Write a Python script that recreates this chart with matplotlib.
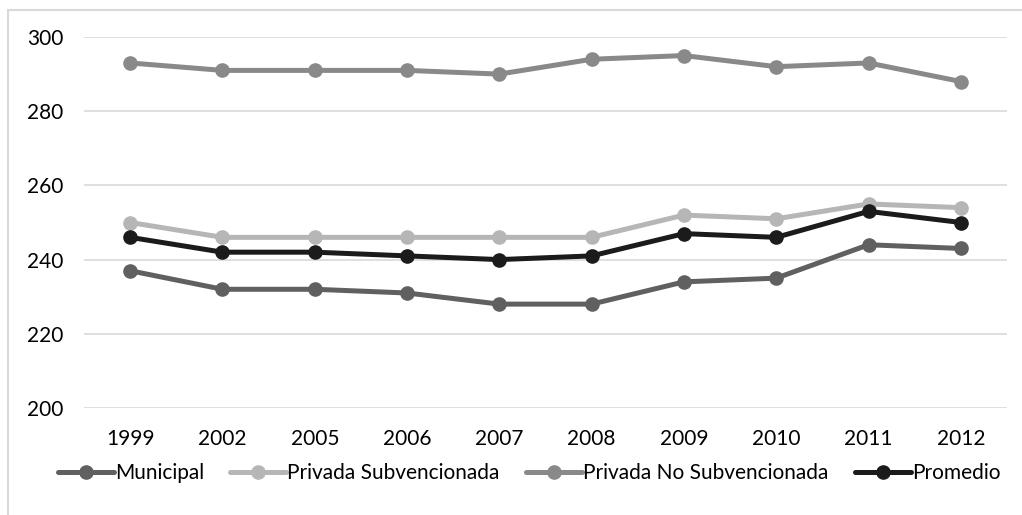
import matplotlib
matplotlib.use("Agg")
import matplotlib.pyplot as plt
from matplotlib.patches import Rectangle

years = ["1999", "2002", "2005", "2006", "2007", "2008", "2009", "2010", "2011", "2012"]
municipal = [237, 232, 232, 231, 228, 228, 234, 235, 244, 243]
privada_subv = [250, 246, 246, 246, 246, 246, 252, 251, 255, 254]
privada_no_subv = [293, 291, 291, 291, 290, 294, 295, 292, 293, 288]
promedio = [246, 242, 242, 241, 240, 241, 247, 246, 253, 250]

series = [
    ("Municipal", municipal, "#606060"),
    ("Privada Subvencionada", privada_subv, "#b6b6b6"),
    ("Privada No Subvencionada", privada_no_subv, "#898989"),
    ("Promedio", promedio, "#1b1b1b"),
]

plt.rcParams["font.family"] = ["Lato", "DejaVu Sans"]

W, H = 1022, 515
fig = plt.figure(figsize=(W / 100, H / 100), dpi=100)
ax = fig.add_axes([84 / W, 1 - 408 / H, (1007 - 84) / W, (408 - 37) / H])

x = list(range(len(years)))
for name, vals, color in series:
    ax.plot(x, vals, color=color, lw=3.6, marker="o", ms=9.5,
            solid_capstyle="round", label=name)

ax.set_xlim(-0.5, len(years) - 0.5)
ax.set_ylim(200, 300)
ax.set_yticks(range(200, 301, 20))
ax.set_xticks(x)
ax.set_xticklabels(years)
ax.grid(axis="y", color="#d9d9d9", lw=1.2)
ax.set_axisbelow(True)
for s in ax.spines.values():
    s.set_visible(False)
ax.tick_params(length=0, labelsize=15, colors="black")
ax.tick_params(axis="y", pad=15)
ax.tick_params(axis="x", pad=15)

fig.patches.append(Rectangle((8 / W, -0.1), 1.2, 1.1 - 10 / H,
                             transform=fig.transFigure, fill=False,
                             edgecolor="#d9d9d9", lw=1.5))

fig.legend(loc="center", bbox_to_anchor=(529 / W, 1 - 473 / H), ncol=4,
           frameon=False, fontsize=15, handlelength=2.7, handletextpad=0.05,
           columnspacing=1.25, borderaxespad=0)

fig.savefig("out.png", dpi=100)
